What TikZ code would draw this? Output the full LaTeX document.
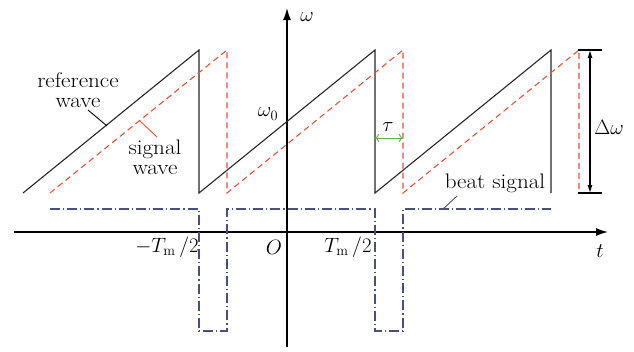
\documentclass[tikz,border=0pt]{standalone}
\usepackage{graphicx}
\usetikzlibrary{arrows.meta}
\definecolor{sigred}{HTML}{E8503A}
\definecolor{beatblue}{HTML}{4B4F7C}
\definecolor{taugreen}{HTML}{5CB84A}
\newcommand{\widetxt}[1]{\scalebox{1.1}[1]{#1}}
\begin{document}
\begin{tikzpicture}[x=1pt,y=-1pt,
  lbl/.style={inner sep=0pt,font=\fontsize{21}{20}\selectfont,align=center},
  axisline/.style={line width=1.4pt,-{Latex[length=12pt,width=8pt]}},
  refw/.style={line width=1.1pt,black!85},
  sigw/.style={line width=1.1pt,sigred,dash pattern=on 6pt off 4pt},
  beatw/.style={line width=1.1pt,beatblue,dash pattern=on 10pt off 3pt on 1.2pt off 3pt},
  leader/.style={line width=0.9pt}]
\useasboundingbox (0,0) rectangle (634,351);
% axes
\coordinate (tL) at (14,232); \coordinate (tR) at (608,232);
\coordinate (wB) at (287,347); \coordinate (wT) at (287,8);
\draw[axisline] (tL) -- (tR);
\draw[axisline] (wB) -- (wT);
% reference wave
\draw[refw] (23,193) -- (199,50) -- (199,193) -- (375,50) -- (375,193) -- (551,50) -- (551,193);
% signal wave
\draw[sigw] (50,193) -- (227,50) -- (227,193) -- (403,50) -- (403,193) -- (579,50) -- (579,193);
% beat signal
\draw[beatw] (50,209) -- (199,209) -- (199,331) -- (227,331) -- (227,209) -- (375,209) -- (375,331) -- (403,331) -- (403,209) -- (551,209);
% delta omega
\coordinate (dT1) at (578,50); \coordinate (dT2) at (602,50);
\coordinate (dB1) at (578,193); \coordinate (dB2) at (602,193);
\draw[line width=1.1pt] (dT1) -- (dT2) (dB1) -- (dB2);
\coordinate (dA) at (590,50); \coordinate (dB) at (590,193);
\draw[line width=1.1pt,{Latex[length=8pt,width=5pt]}-{Latex[length=8pt,width=5pt]}] (dA) -- (dB);
\node[lbl] (dw) at (609,127) {$\Delta\omega$};
% tau
\coordinate (ta) at (375,138); \coordinate (tb) at (403,138);
\draw[line width=1pt,taugreen,{To[length=4pt,width=8pt]}-{To[length=4pt,width=8pt]}] (ta) -- (tb);
\node[lbl] (tau) at (388,127) {$\tau$};
% axis labels
\node[lbl] (om) at (307,17) {$\omega$};
\node[lbl] (tt) at (600,251) {$t$};
\node[lbl] (O) at (274,247) {$O$};
\node[lbl] (om0) at (268,114) {$\omega_0$};
\node[lbl] (mT) at (167,247) {$-T_{\mathrm{m}}\,/2$};
\node[lbl] (pT) at (348,247) {$T_{\mathrm{m}}\,/2$};
% labels with leaders
\node[lbl] (ref) at (78,90) {\widetxt{reference}\\\widetxt{wave}};
\coordinate (refA) at (88,110); \coordinate (refB) at (107,126);
\draw[leader] (refA) -- (refB);
\node[lbl] (sig) at (155,157) {\widetxt{signal}\\\widetxt{wave}};
\coordinate (sigA) at (140,121); \coordinate (sigB) at (157,137);
\draw[leader,sigred] (sigA) -- (sigB);
\node[lbl] (beat) at (495,183) {\widetxt{beat signal}};
\coordinate (beA) at (457,196); \coordinate (beB) at (443,209);
\draw[leader,beatblue] (beA) -- (beB);
\end{tikzpicture}
\end{document}
